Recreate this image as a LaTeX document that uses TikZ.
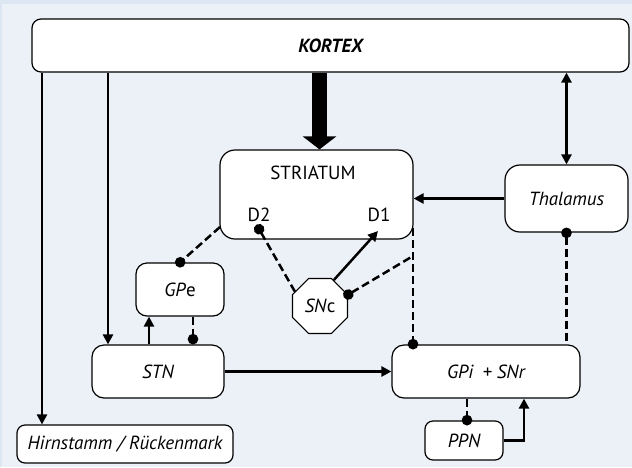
\documentclass[tikz,border=0pt]{standalone}
\usepackage{fontspec}
\setmainfont{PT Sans}
\usetikzlibrary{arrows.meta,shapes.geometric,calc}
\definecolor{bgband}{HTML}{DCE7F3}
\definecolor{bgmain}{HTML}{ECF1F8}
\tikzset{
  lbl/.style={font=\fontsize{19}{21}\selectfont},
  box/.style={draw=black,line width=1.2pt,fill=white,rounded corners=#1,inner sep=0pt,lbl},
  box/.default=12pt,
  conn/.style={line width=2.5pt},
  arr/.style={conn,-{Triangle[length=10pt,width=10pt]}},
  darr/.style={conn,{Triangle[length=10pt,width=10pt]}-{Triangle[length=10pt,width=10pt]}},
  inh/.style={conn,dash pattern=on 8pt off 4pt},
  dotend/.style={-{Circle[length=10.5pt]}},
  dotstart/.style={{Circle[length=10.5pt]}-},
}
\begin{document}
\begin{tikzpicture}[x=1pt,y=-1pt]
\fill[bgband] (0,0) rectangle (632,467);
\fill[bgmain] (2,4) rectangle (632,467);
\useasboundingbox (0,0) rectangle (632,467);

% nodes
\node[box=9pt,minimum width=597pt,minimum height=53pt] (K) at (330.5,45.5) {\bfseries\itshape KORTEX};
\node[box=15pt,minimum width=193pt,minimum height=89pt] (STR) at (316.5,194.5) {};
\node[lbl] (STRt) at (313,173) {STRIATUM};
\node[lbl] (D2) at (259,215) {D2};
\node[lbl] (D1) at (379,215) {D1};
\node[box=15pt,minimum width=123pt,minimum height=67pt] (Th) at (566.5,198.5) {\itshape Thalamus};
\node[box=11pt,minimum width=88pt,minimum height=53pt] (GPe) at (180,289.5) {\textit{GP}e};
\node[draw=black,line width=1.2pt,fill=white,regular polygon,regular polygon sides=8,minimum size=59.5pt,inner sep=0pt,lbl] (SNc) at (320,306) {\textit{SN}c};
\node[box=12pt,minimum width=132pt,minimum height=53pt] (STN) at (158,371.5) {\itshape STN};
\node[box=12pt,minimum width=188pt,minimum height=53pt] (GPi) at (486,371.5) {\itshape GPi\enspace+ SNr};
\node[box=8pt,minimum width=78pt,minimum height=39pt] (PPN) at (464,440.5) {\itshape PPN};
\node[box=8pt,minimum width=216pt,minimum height=38pt] (HR) at (125,444) {\itshape Hirnstamm / Rückenmark};

% helper coordinates
\coordinate (xThick) at (319.5,0);
\coordinate (xL1) at (42,0);
\coordinate (xL2) at (108,0);
\coordinate (xSG) at (149,0);
\coordinate (xGS) at (193,0);
\coordinate (xV) at (413,0);
\coordinate (xPG) at (467,0);
\coordinate (xPR) at (524,0);
\coordinate (d2dot) at (259,229);
\coordinate (d1pt) at (378,231);
\coordinate (strL) at (220,227);
\coordinate (strR) at (413,228);
\coordinate (vmid) at (413,256);

% thick arrow
\draw[line width=15pt,-{Triangle[length=13pt,width=33pt]}] (K.south -| xThick) -- (STR.north -| xThick);
% cortex - thalamus
\draw[darr] (K.south -| Th.north) -- (Th.north);
% cortex to brainstem and STN
\draw[arr] (K.south -| xL1) -- (HR.north -| xL1);
\draw[arr] (K.south -| xL2) -- (STN.north -| xL2);
% thalamus to striatum
\draw[arr] (Th.west) -- (Th.west -| STR.east);
% striatum to GPe
\draw[inh,dotend,shorten >=-5pt] (strL) -- (GPe.north);
% D2 - SNc
\draw[inh,dotstart,shorten <=-5pt] (d2dot) -- (SNc.150);
% SNc to D1
\draw[arr] (SNc.62) -- (d1pt);
% SNc dot to vertical line
\draw[inh,dotstart,shorten <=-5pt] (SNc.22.5) -- (vmid);
% striatum to GPi
\draw[inh,dotend,shorten >=-5pt] (strR) -- (GPi.north -| xV);
% GPi to thalamus
\draw[inh,dotstart,shorten <=-5pt] (Th.south) -- (GPi.north -| Th.south);
% STN to GPi
\draw[arr] (STN.east) -- (GPi.west);
% STN to GPe
\draw[arr] (STN.north -| xSG) -- (GPe.south -| xSG);
% GPe to STN
\draw[inh,dotend] (GPe.south -| xGS) -- (STN.north -| xGS);
% GPi to PPN
\draw[inh,dotend,shorten >=-5pt] (GPi.south -| xPG) -- (PPN.north -| xPG);
% PPN to GPi
\draw[arr] (PPN.east) -| (GPi.south -| xPR);
\end{tikzpicture}
\end{document}
